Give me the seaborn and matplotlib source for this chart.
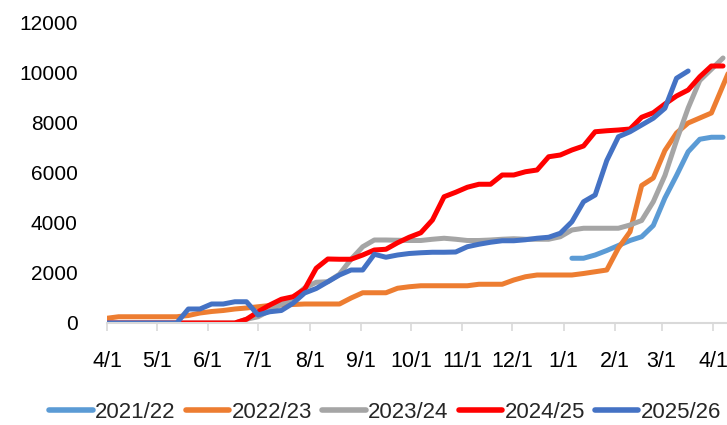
import matplotlib
matplotlib.use("Agg")
import matplotlib.pyplot as plt
import seaborn as sns
import pandas as pd

# cumulative weekly values, week 0 = 4/1
seasons = ["2021/22", "2022/23", "2023/24", "2024/25", "2025/26"]
colors = ["#5B9BD5", "#ED7D31", "#A5A5A5", "#FF0000", "#4472C4"]
start_weeks = [40, 0, 0, 0, 0]

s2122 = [2590, 2590, 2720, 2900, 3100, 3300, 3450, 3900, 5000, 5900, 6850,
         7350, 7430, 7430]
s2223 = [190, 250, 250, 250, 250, 250, 250, 300, 400, 460, 500, 560, 600, 650,
         700, 720, 740, 760, 760, 760, 760, 1000, 1210, 1210, 1210, 1390, 1450,
         1490, 1490, 1490, 1490, 1490, 1550, 1550, 1550, 1720, 1850, 1920, 1920,
         1920, 1920, 1980, 2050, 2120, 3000, 3650, 5500, 5800, 6900, 7600, 8000,
         8200, 8400, 9500, 10600]
s2324 = [0, 0, 0, 0, 0, 0, 0, 0, 0, 0, 0, 0, 150, 250, 500, 750, 1000, 1400,
         1630, 1650, 1950, 2550, 3050, 3320, 3320, 3310, 3300, 3300, 3350, 3390,
         3350, 3300, 3300, 3320, 3350, 3370, 3350, 3350, 3350, 3450, 3720, 3790,
         3790, 3790, 3790, 3920, 4100, 4850, 5900, 7300, 8600, 9700, 10150, 10600]
s2425 = [0, 0, 0, 0, 0, 0, 0, 0, 0, 0, 0, 0, 150, 450, 720, 950, 1050, 1350,
         2190, 2560, 2550, 2550, 2720, 2920, 2950, 3210, 3430, 3610, 4120, 5050,
         5230, 5430, 5550, 5550, 5920, 5920, 6050, 6120, 6650, 6720, 6920, 7080,
         7650, 7690, 7720, 7760, 8230, 8410, 8760, 9080, 9320, 9850, 10280, 10280]
s2526 = [0, 0, 0, 0, 0, 0, 0, 560, 560, 760, 760, 850, 850, 320, 450, 500, 790,
         1200, 1380, 1650, 1920, 2120, 2120, 2750, 2630, 2720, 2780, 2810, 2830,
         2830, 2840, 3050, 3150, 3230, 3290, 3290, 3330, 3390, 3430, 3590, 4050,
         4850, 5120, 6500, 7450, 7650, 7920, 8190, 8590, 9790, 10080]

month_labels = ["4/1", "5/1", "6/1", "7/1", "8/1", "9/1", "10/1", "11/1",
                "12/1", "1/1", "2/1", "3/1", "4/1"]

rows = []
for name, start, vals in zip(seasons, start_weeks, [s2122, s2223, s2324, s2425, s2526]):
    for k, v in enumerate(vals):
        rows.append({"season": name, "day": (start + k) * 7, "value": v})
df = pd.DataFrame(rows)

month_days = [(d - pd.Timestamp("2025-04-01")).days
              for d in pd.date_range("2025-04-01", "2026-04-01", freq="MS")]

sns.set_theme(style="white")
plt.rcParams["font.family"] = ["Liberation Sans", "DejaVu Sans"]

fig = plt.figure(figsize=(7.27, 4.25), dpi=100)
ax = fig.add_axes([107 / 727, 102 / 425, 620 / 727, 300 / 425])

sns.lineplot(data=df, x="day", y="value", hue="season", hue_order=seasons,
             palette=colors, linewidth=3.6, ax=ax,
             solid_joinstyle="round", solid_capstyle="round")

ax.set_xlim(0, 373.4)
ax.set_ylim(0, 12000)
ax.set_xticks(month_days)
ax.set_xticklabels(month_labels)
ax.set_yticks(range(0, 12001, 2000))
ax.set_xlabel("")
ax.set_ylabel("")

for side in ["left", "top", "right"]:
    ax.spines[side].set_visible(False)
ax.spines["bottom"].set_color("#D9D9D9")
ax.spines["bottom"].set_linewidth(1.5)
ax.tick_params(axis="x", direction="out", length=6, width=1.2, color="#D9D9D9",
               labelsize=15.5, pad=14, labelcolor="black", bottom=True)
ax.tick_params(axis="y", length=0, labelsize=15, pad=21, labelcolor="black")

sns.move_legend(ax, "center", bbox_to_anchor=(0.53, 0.03),
                bbox_transform=fig.transFigure, ncol=5, frameon=False,
                title=None, fontsize=16, handlelength=1.95, handletextpad=0.12,
                columnspacing=0.45)
for line in ax.get_legend().get_lines():
    line.set_linewidth(4)
    line.set_solid_capstyle("round")

fig.savefig("out.png", dpi=100)
